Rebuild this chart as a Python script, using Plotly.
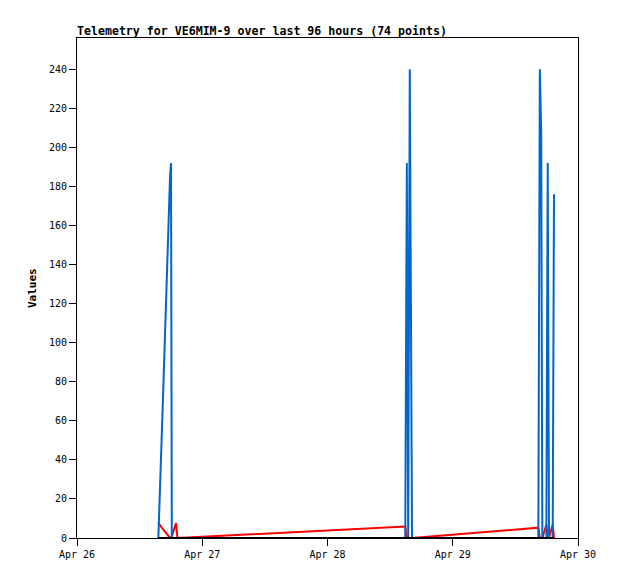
import plotly.graph_objects as go

# Timestamps of telemetry packets
times = [
    "2024-04-26 15:35", "2024-04-26 15:40", "2024-04-26 15:54", "2024-04-26 16:06",
    "2024-04-26 16:17", "2024-04-26 16:29", "2024-04-26 16:40", "2024-04-26 16:52",
    "2024-04-26 17:03", "2024-04-26 17:15", "2024-04-26 17:26", "2024-04-26 17:38",
    "2024-04-26 17:49", "2024-04-26 18:01", "2024-04-26 18:10", "2024-04-26 18:58",
    "2024-04-26 19:15",
    "2024-04-28 14:54", "2024-04-28 15:12", "2024-04-28 15:28", "2024-04-28 15:46",
    "2024-04-28 16:00", "2024-04-28 16:12",
    "2024-04-29 16:24", "2024-04-29 16:41", "2024-04-29 16:57", "2024-04-29 17:10",
    "2024-04-29 17:56", "2024-04-29 18:12", "2024-04-29 18:27", "2024-04-29 19:09",
    "2024-04-29 19:24",
]

blue_values = [
    0, 8, 24, 40, 56, 72, 88, 104, 120, 136, 152, 168, 184, 192, 0, 0, 0,
    0, 192, 0, 240, 120, 0,
    0, 240, 208, 0, 0, 192, 0, 0, 176,
]

red_values = [
    7.8, 7.4, 6.6, 5.9, 5.2, 4.5, 3.8, 3.1, 2.5, 1.8, 1.1, 0.6, 0.3, 0.2, 0.8, 7.6, 0.0,
    5.9, 0.0, 0.0, 0.0, 0.0, 0.0,
    5.3, 0.0, 0.0, 0.0, 6.8, 0.0, 0.3, 6.8, 0.0,
]

black_values = [0] * len(times)

y_ticks = [0, 20, 40, 60, 80, 100, 120, 140, 160, 180, 200, 220, 240]
x_ticks = ["2024-04-26", "2024-04-27", "2024-04-28", "2024-04-29", "2024-04-30"]
x_tick_labels = ["Apr 26", "Apr 27", "Apr 28", "Apr 29", "Apr 30"]

title_text = "Telemetry for VE6MIM-9 over last 96 hours (74 points)"
FONT = "DejaVu Sans Mono"

# page body has an 8px margin, so the figure is 8px smaller on each axis
W, H = 610, 571

fig = go.Figure()
fig.add_trace(go.Scatter(x=times, y=red_values, mode="lines",
                         line=dict(color="#ff0000", width=2), cliponaxis=False,
                         showlegend=False))
fig.add_trace(go.Scatter(x=times, y=blue_values, mode="lines",
                         line=dict(color="#0066cc", width=2), cliponaxis=False,
                         showlegend=False))
fig.add_trace(go.Scatter(x=times, y=black_values, mode="lines",
                         line=dict(color="#000000", width=2), cliponaxis=False,
                         showlegend=False))

fig.update_layout(
    width=W, height=H,
    margin=dict(l=69, r=40, t=30, b=41),
    paper_bgcolor="white", plot_bgcolor="white",
    font=dict(family=FONT, size=10, color="black"),
    title=dict(text="<b>" + title_text + "</b>", x=0, xref="paper", xanchor="left",
               y=1 - 23 / H, yref="container", yanchor="middle",
               font=dict(family=FONT, size=11.6, color="black")),
    xaxis=dict(type="date", range=["2024-04-26", "2024-04-30"],
               tickvals=x_ticks, ticktext=x_tick_labels,
               ticks="outside", ticklen=7, tickcolor="black", tickwidth=1,
               showline=True, linecolor="black", linewidth=1, mirror=True,
               showgrid=False, zeroline=False,
               tickfont=dict(family=FONT, size=10)),
    yaxis=dict(range=[0, 256], tickvals=y_ticks,
               ticks="outside", ticklen=7, tickcolor="black", tickwidth=1,
               showline=True, linecolor="black", linewidth=1, mirror=True,
               showgrid=False, zeroline=False,
               tickfont=dict(family=FONT, size=10)),
    annotations=[dict(text="<b>Values</b>", xref="paper", yref="paper",
                      x=-45 / 501, y=0.5, xanchor="center", yanchor="middle",
                      textangle=-90, showarrow=False,
                      font=dict(family=FONT, size=11, color="black"))],
)

fig.write_html("out.html")
